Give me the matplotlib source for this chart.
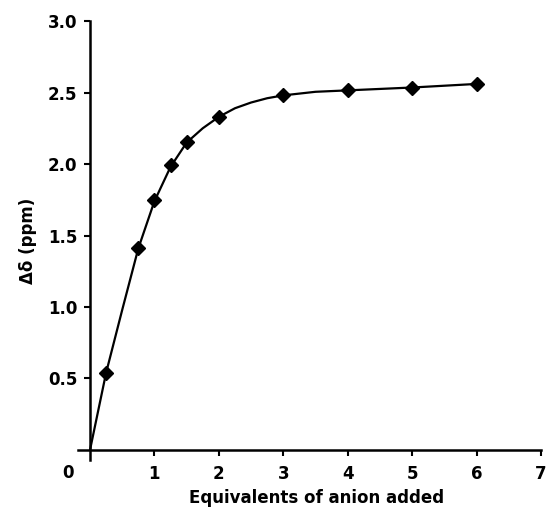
import matplotlib.pyplot as plt

# titration data
equiv = [0.25, 0.75, 1.0, 1.25, 1.5, 2.0, 3.0, 4.0, 5.0, 6.0]
shift = [0.54, 1.41, 1.75, 1.99, 2.155, 2.33, 2.48, 2.52, 2.53, 2.56]

# fitted curve, points
curve_x = [0.0, 0.25, 0.5, 0.75, 1.0, 1.25, 1.5, 1.75, 2.0, 2.25, 2.5, 2.75, 3.0, 3.5, 4.0, 5.0, 6.0]
curve_y = [0.0, 0.54, 0.98, 1.41, 1.74, 1.98, 2.15, 2.25, 2.33, 2.39, 2.43, 2.46, 2.48, 2.505, 2.515, 2.535, 2.56]

xticks = [1, 2, 3, 4, 5, 6, 7]
yticks = [0.5, 1.0, 1.5, 2.0, 2.5, 3.0]

plt.rcParams['font.family'] = ['DejaVu Sans']
plt.rcParams['font.weight'] = 'bold'

fig = plt.figure(figsize=(5.46, 5.15), dpi=100)
ax = fig.add_axes([0.1436, 0.1068, 0.8473, 0.8524])

ax.plot(curve_x, curve_y, color='black', lw=1.6, zorder=2)
ax.plot(equiv, shift, 'D', color='black', markersize=7.5, zorder=3)

ax.set_xlim(-0.18, 7)
ax.set_ylim(-0.07, 3.0)

# axes cross at the origin, like the original
ax.spines['left'].set_position(('data', 0))
ax.spines['bottom'].set_position(('data', 0))
ax.spines['right'].set_visible(False)
ax.spines['top'].set_visible(False)
for s in ['left', 'bottom']:
    ax.spines[s].set_linewidth(1.8)

ax.set_xticks(xticks)
ax.set_xticklabels([str(t) for t in xticks])
ax.set_yticks(yticks)
ax.set_yticklabels(['%.1f' % t for t in yticks])
ax.tick_params(axis='both', direction='out', length=4, width=1.5, labelsize=12)
ax.tick_params(axis='x', pad=7)
ax.tick_params(axis='y', pad=5)

# shared origin label
ax.text(-0.34, -0.03, '0', transform=ax.get_xaxis_transform(), ha='center', va='center',
        fontsize=12, fontweight='bold')

ax.set_xlabel('Equivalents of anion added', fontsize=12, fontweight='bold', labelpad=4)
ax.xaxis.label.set_x(0.514)
ax.set_ylabel('Δδ (ppm)', fontsize=12, fontweight='bold', labelpad=8)

fig.savefig('out.png', dpi=100)
